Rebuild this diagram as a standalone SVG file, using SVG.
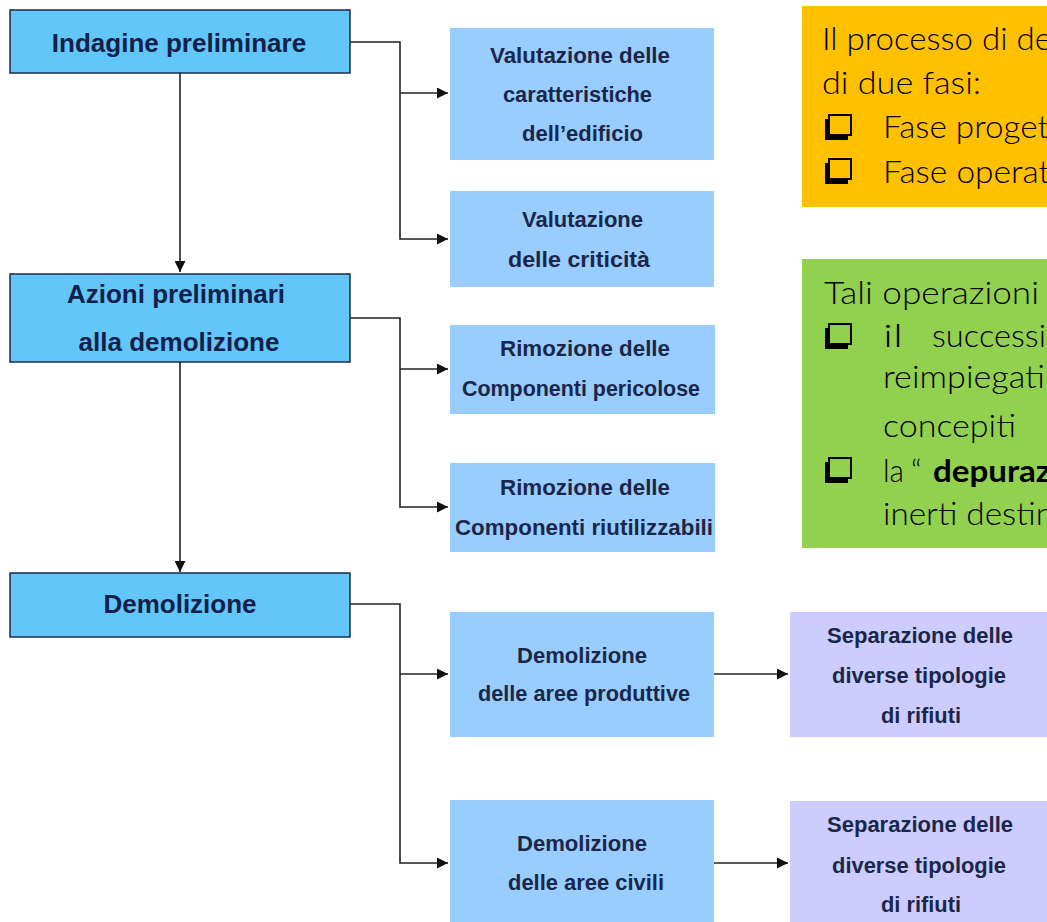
<svg xmlns="http://www.w3.org/2000/svg" width="1047" height="922" viewBox="0 0 1047 922">
<style>
.main{fill:#62c6f8;stroke:#1b2a48;stroke-width:1.5}
.sub{fill:#99ccff}
.sep{fill:#ccccff}
.t1{font-family:"Liberation Sans",Arial,sans-serif;font-weight:bold;font-size:26px;fill:#13214a;text-anchor:middle}
.t2{font-family:"Liberation Sans",Arial,sans-serif;font-weight:bold;font-size:22.5px;fill:#1a2748}
.tc{font-family:Lato,"Open Sans",sans-serif;font-weight:300;font-size:31px;fill:#000}
.tb{font-weight:bold}
.conn path{fill:none;stroke:#222;stroke-width:1.6}
.sh{fill:#000}
.cbo{fill:#ffc000;stroke:#000;stroke-width:2}
.cbg{fill:#92d050;stroke:#000;stroke-width:2}
</style>
<defs>
<marker id="arr" viewBox="0 0 10 10" refX="10" refY="5" markerWidth="12" markerHeight="11" markerUnits="userSpaceOnUse" orient="auto">
<path d="M0,0 L10,5 L0,10 z" fill="#111"/>
</marker>
</defs>
<rect width="1047" height="922" fill="#fff"/>

<g id="n-indagine">
<rect class="main" x="10" y="10" width="340" height="63"/>
<text class="t1" x="179" y="52">Indagine preliminare</text>
</g>
<g id="n-azioni">
<rect class="main" x="10" y="274" width="340" height="88"/>
<text class="t1" x="176" y="303">Azioni preliminari</text>
<text class="t1" x="179" y="351">alla demolizione</text>
</g>
<g id="n-demolizione">
<rect class="main" x="10" y="573" width="340" height="64"/>
<text class="t1" x="180" y="613">Demolizione</text>
</g>

<g id="n-val-caratt">
<rect class="sub" x="450" y="28" width="264" height="132"/>
<text class="t2" x="490" y="63" textLength="180" lengthAdjust="spacingAndGlyphs">Valutazione delle</text>
<text class="t2" x="503" y="102" textLength="149" lengthAdjust="spacingAndGlyphs">caratteristiche</text>
<text class="t2" x="522" y="141" textLength="121" lengthAdjust="spacingAndGlyphs">dell’edificio</text>
</g>
<g id="n-val-crit">
<rect class="sub" x="450" y="191" width="264" height="96"/>
<text class="t2" x="522" y="227" textLength="121" lengthAdjust="spacingAndGlyphs">Valutazione</text>
<text class="t2" x="508" y="267" textLength="142" lengthAdjust="spacingAndGlyphs">delle criticità</text>
</g>
<g id="n-rim-peric">
<rect class="sub" x="450" y="325" width="265" height="89"/>
<text class="t2" x="500" y="356" textLength="170" lengthAdjust="spacingAndGlyphs">Rimozione delle</text>
<text class="t2" x="462" y="396" textLength="238" lengthAdjust="spacingAndGlyphs">Componenti pericolose</text>
</g>
<g id="n-rim-riut">
<rect class="sub" x="450" y="463" width="265" height="89"/>
<text class="t2" x="500" y="495" textLength="170" lengthAdjust="spacingAndGlyphs">Rimozione delle</text>
<text class="t2" x="455" y="535" textLength="258" lengthAdjust="spacingAndGlyphs">Componenti riutilizzabili</text>
</g>
<g id="n-dem-prod">
<rect class="sub" x="450" y="612" width="264" height="125"/>
<text class="t2" x="517" y="663" textLength="130" lengthAdjust="spacingAndGlyphs">Demolizione</text>
<text class="t2" x="478" y="701" textLength="212" lengthAdjust="spacingAndGlyphs">delle aree produttive</text>
</g>
<g id="n-dem-civ">
<rect class="sub" x="450" y="800" width="264" height="122"/>
<text class="t2" x="517" y="851" textLength="130" lengthAdjust="spacingAndGlyphs">Demolizione</text>
<text class="t2" x="508" y="890" textLength="156" lengthAdjust="spacingAndGlyphs">delle aree civili</text>
</g>
<g id="n-sep-1">
<rect class="sep" x="790" y="612" width="257" height="125"/>
<text class="t2" x="827" y="643" textLength="186" lengthAdjust="spacingAndGlyphs">Separazione delle</text>
<text class="t2" x="832" y="683" textLength="174" lengthAdjust="spacingAndGlyphs">diverse tipologie</text>
<text class="t2" x="881" y="723" textLength="80" lengthAdjust="spacingAndGlyphs">di rifiuti</text>
</g>
<g id="n-sep-2">
<rect class="sep" x="790" y="801" width="257" height="121"/>
<text class="t2" x="827" y="832" textLength="186" lengthAdjust="spacingAndGlyphs">Separazione delle</text>
<text class="t2" x="832" y="873" textLength="174" lengthAdjust="spacingAndGlyphs">diverse tipologie</text>
<text class="t2" x="881" y="912" textLength="80" lengthAdjust="spacingAndGlyphs">di rifiuti</text>
</g>

<g id="connectors" class="conn">
<path d="M180,73 V272" marker-end="url(#arr)"/>
<path d="M180,362 V572" marker-end="url(#arr)"/>
<path d="M350,42 H400 V239 H448" marker-end="url(#arr)"/>
<path d="M400,93 H448" marker-end="url(#arr)"/>
<path d="M350,318 H400 V507 H448" marker-end="url(#arr)"/>
<path d="M400,369 H448" marker-end="url(#arr)"/>
<path d="M350,604 H400 V863 H448" marker-end="url(#arr)"/>
<path d="M400,674 H448" marker-end="url(#arr)"/>
<path d="M714,674 H788" marker-end="url(#arr)"/>
<path d="M714,863 H788" marker-end="url(#arr)"/>
</g>

<g id="note-fasi">
<rect x="802" y="6" width="245" height="201" fill="#ffc000"/>
<text class="tc" x="822" y="50" textLength="230" lengthAdjust="spacingAndGlyphs">Il processo di de</text>
<text class="tc" x="822" y="94" textLength="159" lengthAdjust="spacingAndGlyphs">di due fasi:</text>
<rect class="sh" x="825" y="119" width="23" height="21"/>
<rect class="cbo" x="829" y="115" width="22" height="20"/>
<text class="tc" x="883" y="138" textLength="166" lengthAdjust="spacingAndGlyphs">Fase proget</text>
<rect class="sh" x="825" y="163" width="23" height="21"/>
<rect class="cbo" x="829" y="159" width="22" height="20"/>
<text class="tc" x="883" y="183" textLength="167" lengthAdjust="spacingAndGlyphs">Fase operat</text>
</g>

<g id="note-operazioni">
<rect x="802" y="259" width="245" height="289" fill="#92d050"/>
<text class="tc" x="824" y="304" textLength="215" lengthAdjust="spacingAndGlyphs">Tali operazioni</text>
<rect class="sh" x="825" y="328" width="23" height="21"/>
<rect class="cbg" x="829" y="324" width="22" height="20"/>
<text class="tc" x="883" y="347" textLength="20" lengthAdjust="spacingAndGlyphs">il</text>
<text class="tc" x="932" y="347" textLength="114" lengthAdjust="spacingAndGlyphs">successi</text>
<text class="tc" x="883" y="388" textLength="162" lengthAdjust="spacingAndGlyphs">reimpiegati</text>
<text class="tc" x="883" y="437" textLength="133" lengthAdjust="spacingAndGlyphs">concepiti</text>
<rect class="sh" x="825" y="462" width="23" height="21"/>
<rect class="cbg" x="829" y="458" width="22" height="20"/>
<text class="tc" x="883" y="482" textLength="21" lengthAdjust="spacingAndGlyphs">la</text>
<text class="tc" x="911" y="482">“</text>
<text class="tc tb" x="933" y="482" textLength="118" lengthAdjust="spacingAndGlyphs">depuraz</text>
<text class="tc" x="883" y="525" textLength="171" lengthAdjust="spacingAndGlyphs">inerti destin</text>
</g>
</svg>
